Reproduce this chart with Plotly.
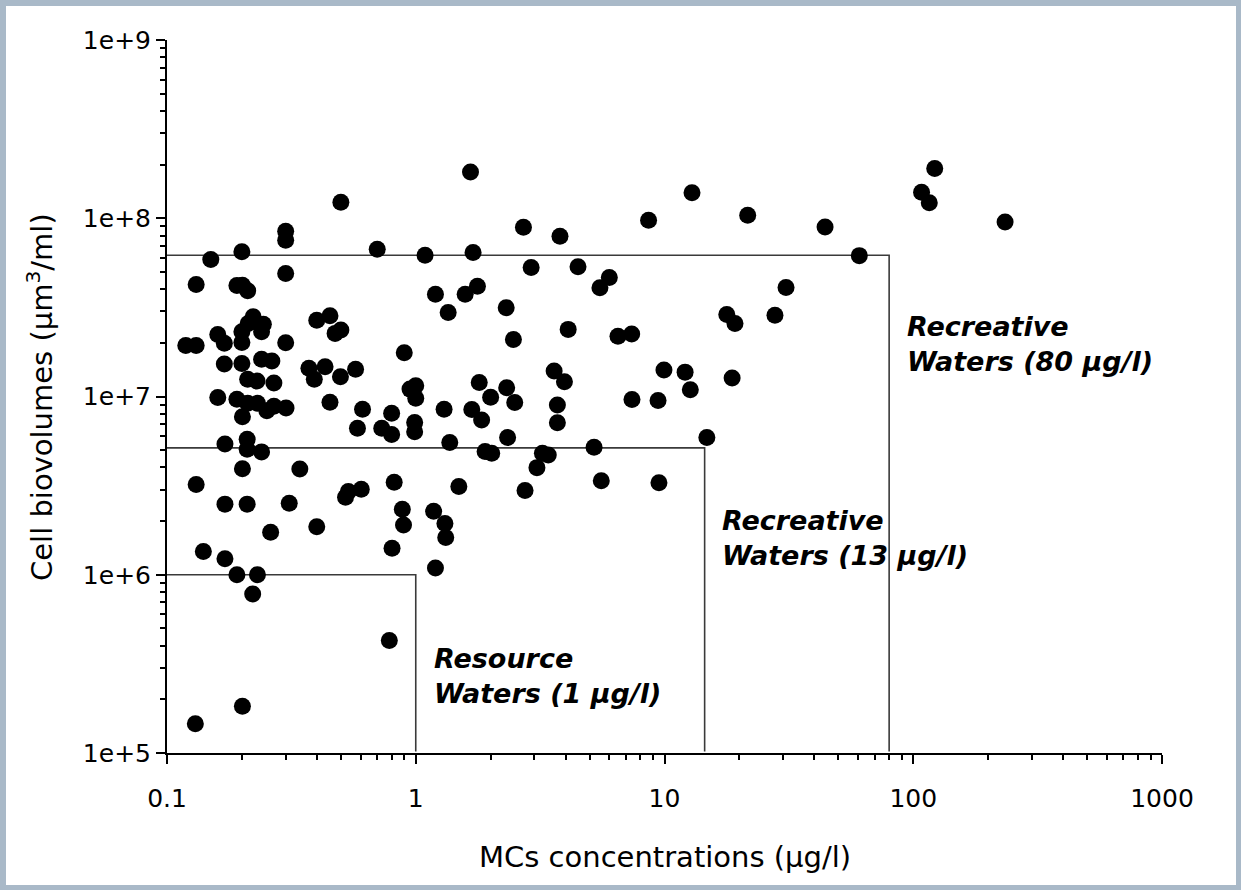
import plotly.graph_objects as go

# ---- data ----
mc_ugl = [1.66, 0.50, 0.30, 0.30, 2.71, 3.80, 8.63, 12.9, 21.6, 44.2, 122, 108, 116, 234, 60.7,
          0.150, 0.200, 0.70, 1.09, 1.70, 2.91, 4.49, 0.30, 0.131, 0.191, 0.201, 0.211, 1.20, 1.58, 1.77,
          6.00, 5.50, 30.8, 1.35, 2.31, 27.8, 17.8, 19.2, 0.400, 0.452, 0.474, 0.500, 2.47, 4.10, 6.50,
          7.38, 0.119, 0.131, 0.160, 0.170, 0.200, 0.200, 0.212, 0.222, 0.244, 0.240, 0.300, 0.899, 0.170,
          0.200, 0.240, 0.264, 0.211, 0.230, 0.269, 0.372, 0.391, 0.432, 0.498, 0.573, 0.948, 1.00, 1.00,
          1.80, 2.32, 2.00, 2.50, 3.60, 3.96, 3.71, 3.71, 9.95, 12.1, 12.7, 18.7, 7.40, 9.42, 0.160, 0.191,
          0.211, 0.231, 0.252, 0.269, 0.301, 0.201, 0.452, 0.611, 0.583, 0.730, 0.800, 0.800, 0.99, 0.99,
          1.30, 1.68, 1.84, 1.37, 1.90, 2.02, 2.34, 3.23, 3.41, 3.07, 5.21, 14.8, 0.171, 0.210, 0.210,
          0.240, 0.201, 0.342, 0.131, 0.171, 0.210, 0.310, 0.261, 0.400, 0.140, 0.171, 0.191, 0.231, 0.221,
          0.522, 0.536, 0.604, 0.819, 0.883, 0.893, 0.803, 1.18, 1.31, 1.32, 1.20, 1.49, 2.75, 5.57, 9.50,
          0.783, 0.201, 0.130]

biovol_millions = [182, 123, 84.6, 75.3, 89.0, 79.3, 97.4, 139, 104, 89.4, 190, 140, 122, 95.3, 61.7,
                   58.7, 64.9, 67.0, 62.0, 64.2, 53.0, 53.4, 49.0, 42.5, 42.0, 42.1, 39.2, 37.5, 37.5, 41.6,
                   46.5, 40.7, 40.9, 29.6, 31.5, 28.6, 28.8, 25.7, 26.8, 28.4, 22.6, 23.6, 20.9, 23.8, 21.8,
                   22.4, 19.3, 19.3, 22.3, 19.9, 23.1, 20.1, 25.7, 28.0, 25.4, 23.1, 20.0, 17.6, 15.2,
                   15.3, 16.2, 15.8, 12.5, 12.2, 11.9, 14.4, 12.5, 14.7, 12.9, 14.2, 11.0, 11.5, 9.77,
                   12.0, 11.2, 9.90, 9.26, 13.9, 12.1, 8.96, 7.13, 14.1, 13.7, 10.9, 12.7, 9.62, 9.50, 9.87, 9.64,
                   9.16, 9.16, 8.31, 8.81, 8.62, 7.70, 9.28, 8.48, 6.63, 6.63, 6.12, 8.05, 7.15, 6.35,
                   8.48, 8.46, 7.38, 5.52, 4.91, 4.81, 5.89, 4.81, 4.70, 3.99, 5.19, 5.89, 5.42, 5.76, 5.06,
                   4.89, 3.93, 3.92, 3.21, 2.49, 2.49, 2.52, 1.73, 1.86, 1.35, 1.23, 1.00, 1.00, 0.780,
                   2.72, 2.93, 3.02, 3.30, 2.33, 1.90, 1.41, 2.27, 1.94, 1.62, 1.09, 3.13, 2.97, 3.37, 3.28,
                   0.428, 0.183, 0.146]

# guideline boundaries: (MC limit, biovolume limit)
limit_mc = [1.0, 14.5, 80.0]
limit_biovol = [1.0e6, 5.15e6, 6.2e7]
limit_labels = ["Resource<br>Waters (1 µg/l)",
                "Recreative<br>Waters (13 µg/l)",
                "Recreative<br>Waters (80 µg/l)"]

x_tickvals = [0.1, 1, 10, 100, 1000]
x_ticktext = ["0.1", "1", "10", "100", "1000"]
y_tickvals = [1e5, 1e6, 1e7, 1e8, 1e9]
y_ticktext = ["1e+5", "1e+6", "1e+7", "1e+8", "1e+9"]

biovol = [v * 1e6 for v in biovol_millions]

FONT = "DejaVu Sans"
fig = go.Figure()

# boundary lines
for m, b in zip(limit_mc, limit_biovol):
    fig.add_trace(go.Scatter(x=[0.1, m, m], y=[b, b, 1.02e5], mode="lines",
                             line=dict(color="#3a3a3a", width=1.6),
                             hoverinfo="skip", showlegend=False))

fig.add_trace(go.Scatter(x=mc_ugl, y=biovol, mode="markers",
                         marker=dict(color="black", size=17, line=dict(width=0)),
                         showlegend=False, cliponaxis=False))

minor_x = [k * 10 ** e for e in range(-1, 3) for k in range(2, 10)]
minor_y = [k * 10 ** e for e in range(5, 9) for k in range(2, 10)]

fig.update_xaxes(type="log", range=[-1, 3], showgrid=False, zeroline=False,
                 showline=True, linecolor="black", linewidth=2,
                 ticks="outside", ticklen=9, tickwidth=2, tickcolor="black",
                 tickmode="array", tickvals=x_tickvals, ticktext=x_ticktext,
                 tickfont=dict(family=FONT, size=25, color="black"),
                 ticklabelstandoff=13,
                 minor=dict(tickmode="array", tickvals=minor_x, ticks="outside",
                            ticklen=5, tickwidth=1.5, tickcolor="black", showgrid=False),
                 automargin=False)
fig.update_yaxes(type="log", range=[5, 9], showgrid=False, zeroline=False,
                 showline=True, linecolor="black", linewidth=2,
                 ticks="outside", ticklen=9, tickwidth=2, tickcolor="black",
                 tickmode="array", tickvals=y_tickvals, ticktext=y_ticktext,
                 tickfont=dict(family=FONT, size=25, color="black"),
                 minor=dict(tickmode="array", tickvals=minor_y, ticks="outside",
                            ticklen=5, tickwidth=1.5, tickcolor="black", showgrid=False),
                 automargin=False)

W, H = 1241, 890
L, R, T, B = 167, 79, 40, 137
pw, ph = W - L - R, H - T - B


def px(xp):
    return (xp - L) / pw


def py(yp):
    return (H - B - yp) / ph


# white panel over blue background
fig.add_shape(type="rect", xref="paper", yref="paper",
              x0=px(6), x1=px(1236), y0=py(885), y1=py(6),
              fillcolor="white", line=dict(width=0), layer="below")

ann = []
ann.append(dict(text="MCs concentrations (µg/l)", xref="paper", yref="paper",
                x=0.5, y=py(857), xanchor="center", yanchor="middle", showarrow=False,
                font=dict(family=FONT, size=29, color="black")))
ann.append(dict(text="Cell biovolumes (µm<sup>3</sup>/ml)", xref="paper", yref="paper",
                x=px(40), y=py(397), xanchor="center", yanchor="middle", textangle=-90,
                showarrow=False, font=dict(family=FONT, size=29, color="black")))
label_pos = [(432, 676), (720, 538), (905, 344)]
for (lx, ly), txt in zip(label_pos, limit_labels):
    parts = txt.split("<br>")
    t = "<br>".join("<b><i>%s</i></b>" % p for p in parts)
    ann.append(dict(text=t, xref="paper", yref="paper", x=px(lx), y=py(ly),
                    xanchor="left", yanchor="middle", align="left", showarrow=False,
                    font=dict(family=FONT, size=27, color="black")))

fig.update_layout(width=W, height=H, margin=dict(l=L, r=R, t=T, b=B, pad=0),
                  paper_bgcolor="#a9b9c8", plot_bgcolor="white",
                  annotations=ann, showlegend=False)

fig.write_html("out.html")
